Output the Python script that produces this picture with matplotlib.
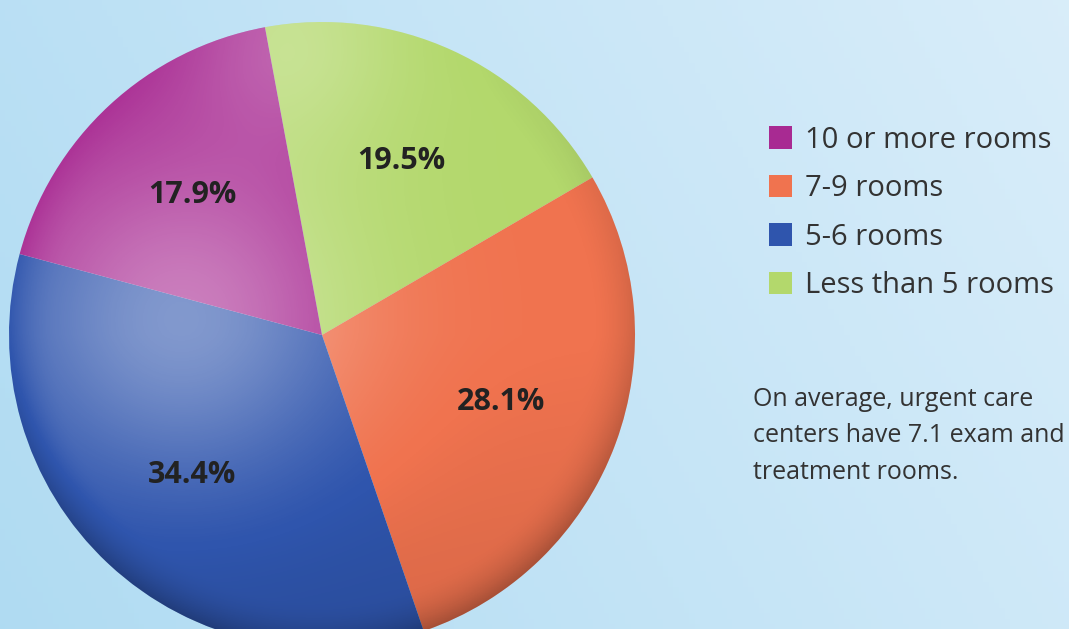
import numpy as np
import matplotlib.pyplot as plt
import matplotlib as mpl
from matplotlib.patches import Circle

mpl.use('Agg')
plt.rcParams['font.family'] = ['Open Sans', 'DejaVu Sans']

# slices, clockwise from the top
labels = ['Less than 5 rooms', '7-9 rooms', '5-6 rooms', '10 or more rooms']
shares = [19.5, 28.1, 34.4, 17.9]
colors = ['#b3d86c', '#f0734f', '#2f55ad', '#a82a92']
legend_order = ['10 or more rooms', '7-9 rooms', '5-6 rooms', 'Less than 5 rooms']
note = 'On average, urgent care\ncenters have 7.1 exam and\ntreatment rooms.'

W, H = 1069, 629
fig = plt.figure(figsize=(W / 100, H / 100), dpi=100)

# light blue backdrop
bg = fig.add_axes([0, 0, 1, 1])
gx, gy = np.meshgrid(np.linspace(0, 1, 200), np.linspace(0, 1, 120))
c0 = np.array([0.69, 0.86, 0.95])
c1 = np.array([0.85, 0.93, 0.98])
t = np.clip(0.75 * gx + 0.25 * (1 - gy), 0, 1)[..., None]
bg.imshow(c0 * (1 - t) + c1 * t, extent=[0, 1, 0, 1], aspect='auto', origin='upper')
bg.axis('off')

# pie axes: centre at (322, 335) px, radius 313 px
cx, cy, r = 322, 335, 313
ax = fig.add_axes([(cx - r) / W, (H - cy - r) / H, 2 * r / W, 2 * r / H])
wedges, texts, autotexts = ax.pie(shares, colors=colors, startangle=100.5,
                                  counterclock=False, autopct='%.1f%%',
                                  pctdistance=0.61,
                                  wedgeprops=dict(linewidth=0),
                                  textprops=dict(fontsize=22, fontweight='bold',
                                                 color='#222222'))
ax.set_xlim(-1, 1)
ax.set_ylim(-1, 1)
ax.set_aspect('equal')

# glossy shading overlay
sx, sy = np.meshgrid(np.linspace(-1, 1, 400), np.linspace(1, -1, 400))
rr = np.hypot(sx, sy)
d = np.hypot(sx + 0.45, sy - 0.05)
shade = np.zeros((400, 400, 4))
light = 0.40 * np.exp(-(d / 0.55) ** 2) + 0.25 * np.exp(-(np.hypot(sx + 0.1, sy - 0.95) / 0.35) ** 2)
dark = (0.22 * np.clip((rr - 0.85) / 0.15, 0, 1) ** 2) * np.clip(0.6 - 0.6 * sy, 0, 1) \
    + 0.10 * np.clip(-sy, 0, 1)
shade[..., :3] = np.where((light > dark)[..., None], 1.0, 0.0)
shade[..., 3] = np.abs(light - dark)
img = ax.imshow(shade, extent=[-1, 1, -1, 1], zorder=3)
img.set_clip_path(Circle((0, 0), 1, transform=ax.transData))
for a in autotexts:
    a.set_zorder(5)

handles = [wedges[labels.index(n)] for n in legend_order]
fig.legend(handles, legend_order, loc='upper left',
           bbox_to_anchor=(754 / W, 1 - 111 / H), frameon=False,
           fontsize=21, handlelength=0.8, handleheight=0.8,
           handletextpad=0.45, labelspacing=0.67, borderpad=0,
           labelcolor='#333333')

fig.text(753 / W, 1 - 387 / H, note, fontsize=18, color='#333333',
         va='top', ha='left', linespacing=1.6)

fig.savefig('out.png', dpi=100)
